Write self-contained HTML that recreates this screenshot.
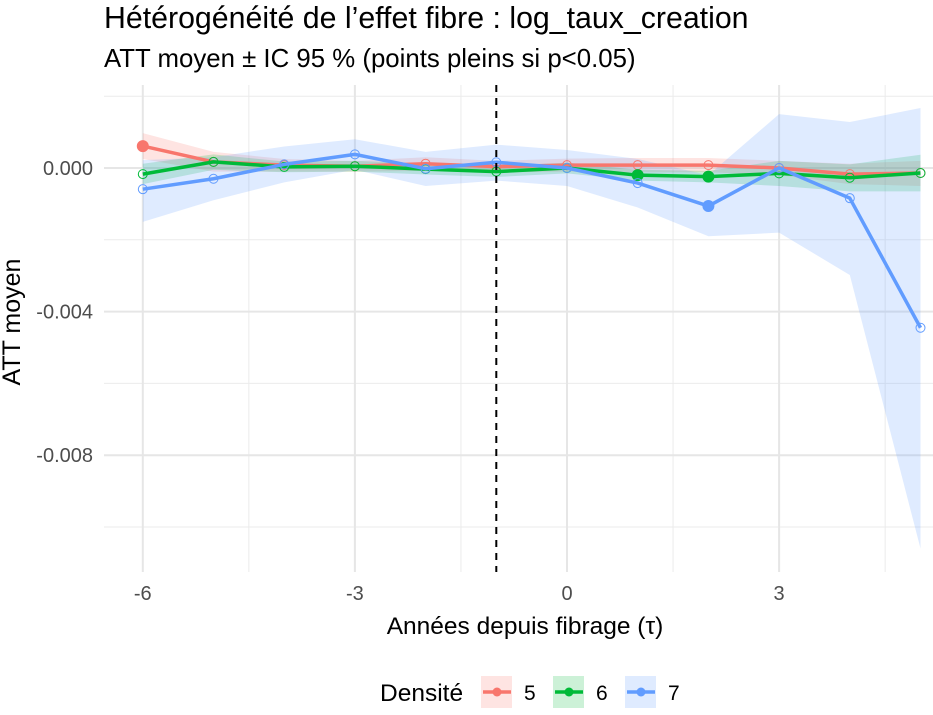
<!DOCTYPE html>
<html><head><meta charset="utf-8"><style>
body{margin:0;background:#fff;font-family:"Liberation Sans",Arial,sans-serif;}
svg text{font-family:"Liberation Sans",Arial,sans-serif;}
</style></head><body>
<svg id="chart" width="933" height="710" viewBox="0 0 933 710">
<text x="104" y="28" font-size="30.3" fill="#000">Hétérogénéité de l’effet fibre : log_taux_creation</text>
<text x="104" y="67" font-size="25.8" fill="#000">ATT moyen ± IC 95 % (points pleins si p&lt;0.05)</text>
<g id="grid"></g>
<g id="bands"></g>
<g id="lines"></g>
<line x1="496.3" y1="85" x2="496.3" y2="572" stroke="#000" stroke-width="2" stroke-dasharray="7,6"/>
<g id="axes"></g>
<text x="525" y="634" font-size="24.5" text-anchor="middle" fill="#000">Années depuis fibrage (τ)</text>
<text transform="translate(20,322) rotate(-90)" font-size="25" text-anchor="middle" fill="#000">ATT moyen</text>
<g id="legend">
<text x="380" y="701" font-size="24.5" fill="#000">Densité</text>
</g>
</svg>
<script>
const taus=[-6,-5,-4,-3,-2,-1,0,1,2,3,4,5];
const seriesNames=["5","6","7"];
const colors=["#F8766D","#00BA38","#619CFF"];
// values in units of 0.001
const att5=[0.61,0.17,0.08,0.05,0.12,0.04,0.08,0.08,0.08,0.0,-0.17,-0.14];
const lo5=[0.25,-0.1,-0.1,-0.1,-0.08,-0.12,-0.1,-0.12,-0.12,-0.2,-0.45,-0.5];
const hi5=[0.97,0.45,0.25,0.2,0.3,0.2,0.26,0.28,0.28,0.2,0.12,0.2];
const sig5=[1,0,0,0,0,0,0,0,0,0,0,0];
const att6=[-0.17,0.17,0.03,0.05,-0.03,-0.1,0.0,-0.2,-0.24,-0.15,-0.27,-0.14];
const lo6=[-0.45,-0.05,-0.12,-0.1,-0.18,-0.25,-0.15,-0.35,-0.4,-0.5,-0.65,-0.65];
const hi6=[0.12,0.38,0.18,0.2,0.12,0.05,0.15,-0.05,-0.08,0.2,0.1,0.37];
const sig6=[0,0,0,0,0,0,0,1,1,0,0,0];
const att7=[-0.59,-0.3,0.1,0.38,-0.02,0.16,0.0,-0.42,-1.06,0.0,-0.84,-4.45];
const lo7=[-1.5,-0.9,-0.4,-0.05,-0.5,-0.35,-0.5,-1.1,-1.9,-1.8,-2.98,-10.6];
const hi7=[0.22,0.3,0.6,0.8,0.45,0.65,0.5,0.25,-0.2,1.5,1.28,1.67];
const sig7=[0,0,0,0,0,0,0,0,1,0,0,0];
const xTicks=[-6,-3,0,3];
const yTicks=[0,-4,-8];
const yTickLabels=["0.000","-0.004","-0.008"];
const yMinor=[2,-2,-6,-10];
const xMinor=[-4.5,-1.5,1.5,4.5];

const NS="http://www.w3.org/2000/svg";
const X=t=>567+70.7*t;
const Y=v=>168-35.9*v;
const L=104,R=933,T=85,B=572;
function mk(tag,attrs,parent){const e=document.createElementNS(NS,tag);for(const k in attrs)e.setAttribute(k,attrs[k]);parent.appendChild(e);return e;}
const grid=document.getElementById('grid');
yMinor.forEach(v=>{const e=mk('line',{x1:L,x2:R,y1:Y(v),y2:Y(v),stroke:'#ebebeb','stroke-width':1},grid);

});
xMinor.forEach(t=>{const e=mk('line',{x1:X(t),x2:X(t),y1:T,y2:B,stroke:'#ebebeb','stroke-width':1},grid);

});
yTicks.forEach(v=>{const e=mk('line',{x1:L,x2:R,y1:Y(v),y2:Y(v),stroke:'#e6e6e6','stroke-width':2},grid);

});
xTicks.forEach(t=>{const e=mk('line',{x1:X(t),x2:X(t),y1:T,y2:B,stroke:'#e6e6e6','stroke-width':2},grid);

});
const axes=document.getElementById('axes');
yTicks.forEach((v,i)=>{const e=mk('text',{x:93,y:Y(v)+7,'font-size':20,'text-anchor':'end',fill:'#4d4d4d'},axes);e.textContent=yTickLabels[i];

});
xTicks.forEach(t=>{const e=mk('text',{x:X(t),y:600,'font-size':20,'text-anchor':'middle',fill:'#4d4d4d'},axes);e.textContent=String(t);

});
const all=[[att5,lo5,hi5,sig5],[att6,lo6,hi6,sig6],[att7,lo7,hi7,sig7]];
const bands=document.getElementById('bands'),lines=document.getElementById('lines');
all.forEach((s,k)=>{
  const [a,lo,hi,sig]=s;
  const up=taus.map((t,i)=>X(t)+','+Y(hi[i]));
  const dn=taus.map((t,i)=>X(t)+','+Y(lo[i])).reverse();
  const b=mk('polygon',{points:up.concat(dn).join(' '),fill:colors[k],'fill-opacity':0.2},bands);
  
  
});
all.forEach((s,k)=>{
  const [a,lo,hi,sig]=s;
  const l=mk('polyline',{points:taus.map((t,i)=>X(t)+','+Y(a[i])).join(' '),fill:'none',stroke:colors[k],'stroke-width':3.5,'stroke-linejoin':'round'},lines);
  
  
  taus.forEach((t,i)=>{
    const p=mk('circle',{cx:X(t),cy:Y(a[i]),r:sig[i]?5.5:4.5,fill:sig[i]?colors[k]:'none',stroke:colors[k],'stroke-width':1},lines);
    
    
  });
});
const lg=document.getElementById('legend');
[480,552,624].forEach((x,k)=>{
  const r=mk('rect',{x:x+1,y:676,width:31,height:32,fill:colors[k],'fill-opacity':0.2},lg);
  
  
  mk('line',{x1:x+3,x2:x+31,y1:692,y2:692,stroke:colors[k],'stroke-width':3.5},lg);
  mk('circle',{cx:x+17,cy:692,r:4.5,fill:colors[k]},lg);
  const t=mk('text',{x:x+44,y:700,'font-size':21,fill:'#000'},lg);t.textContent=seriesNames[k];
  
  
});
</script>
</body></html>
